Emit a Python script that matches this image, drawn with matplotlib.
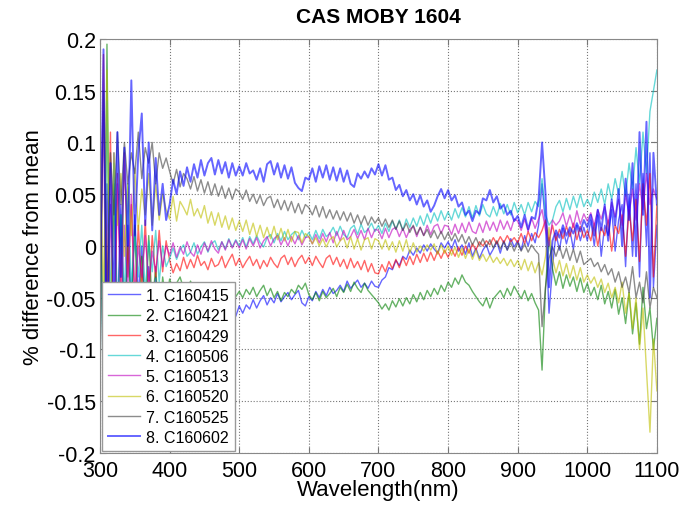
import numpy as np
import matplotlib.pyplot as plt
from matplotlib.ticker import FormatStrFormatter

plt.rcParams['font.family'] = ['Liberation Sans', 'DejaVu Sans']

wavelength = np.arange(300, 1101, 5)

# % difference from mean, in thousandths, one row per 100 nm
c160415 = [150, -180, 60, -120, 90, -70, 40, -90, 20, -60, 30, -50, 0, -70, -20, -60, -30, -75, -40, -65,
           -64, -73, -69, -79, -70, -81, -72, -76, -68, -80, -71, -75, -66, -77, -69, -73, -62, -71, -64, -68,
           -58, -65, -57, -61, -52, -60, -53, -48, -57, -50, -55, -46, -54, -49, -45, -52, -47, -43, -55, -58,
           -49, -53, -44, -50, -42, -48, -40, -46, -43, -38, -44, -34, -41, -37, -33, -40, -36, -41, -34, -39,
           -40, -33, -30, -21, -23, -14, -19, -10, -13, -4, -9, -2, -7, 1, -5, 2, -3, -7, 3, -2,
           4, -3, 6, -5, 1, -8, 3, -10, -2, -12, -4, 1, -9, -3, 4, -7, 5, -4, 7, -1,
           5, -4, 10, 0, 12, 3, 20, 60, 20, -65, -20, 12, -4, 17, 2, 15, -3, 20, 5, 18,
           5, 25, 0, 30, -10, 20, 10, 35, -5, 25, 40, -20, 50, -10, 60, -30, 70, 0, 90, -40, 20]
c160421 = [100, -170, 195, -140, 60, -100, 30, -80, 0, -60, 20, -90, -10, -70, 10, -60, -20, -80, -30, -55,
           -32, -42, -36, -30, -41, -45, -34, -43, -47, -37, -44, -49, -40, -48, -42, -50, -44, -52, -43, -49,
           -44, -50, -42, -47, -40, -49, -43, -38, -48, -41, -50, -44, -53, -45, -49, -42, -46, -38, -42, -36,
           -47, -52, -45, -53, -44, -50, -46, -41, -49, -40, -45, -37, -44, -35, -41, -45, -36, -43, -47, -51,
           -55, -61, -56, -62, -53, -59, -51, -58, -50, -56, -47, -54, -45, -52, -43, -49, -41, -47, -38, -44,
           -35, -40, -31, -37, -28, -35, -38, -44, -49, -54, -58, -50, -60, -51, -47, -43, -50, -41, -48, -39,
           -45, -51, -43, -53, -46, -55, -62, -120, -40, 8, -22, -38, -25, -41, -28, -39, -30, -44, -31, -45,
           -36, -48, -40, -52, -38, -56, -44, -60, -42, -66, -50, -75, -45, -85, -55, -95, -40, -80, -60, -100, -70]
c160429 = [-90, 185, -60, 110, -150, 70, -40, 90, -30, 40, -60, 20, -40, 25, -50, 10, -30, 15, -25, 5,
           -14, -26, -17, -24, -11, -22, -13, -21, -9, -19, -15, -23, -12, -20, -18, -10, -21, -14, -8, -19,
           -12, -21, -15, -10, -19, -13, -22, -14, -20, -11, -17, -21, -12, -9, -18, -11, -20, -13, -9, -17,
           -11, -19, -10, -16, -21, -12, -9, -18, -11, -20, -13, -22, -12, -21, -15, -23, -14, -25, -17, -26,
           -27, -18, -25, -15, -22, -13, -21, -11, -19, -10, -18, -8, -16, -7, -15, -6, -14, -5, -12, -4,
           -11, -3, -10, -1, -9, 0, -7, 2, -4, 4, 0, 5, 1, 8, 2, 9, 3, 10, 4, 8,
           3, 12, 2, 14, 5, 13, 8, 15, 25, 5, 20, 5, 16, 7, 19, 9, 22, 6, 19, 8,
           15, 5, 22, 0, 18, 10, 25, -5, 20, 12, 30, -10, 35, 5, 45, -15, 60, 20, 70, -30, 40]
c160506 = [50, -120, 140, -60, 80, -90, 30, -50, 60, -40, 10, -30, 20, -45, 5, -25, 15, -35, 0, -20,
           -12, -2, -13, -4, 1, -10, -6, 3, -8, -1, 4, -6, 2, 5, -4, 4, -3, 7, -1, 6,
           0, 8, -1, 9, 2, 10, 3, -1, 8, 11, 3, 12, 5, 14, 6, 11, 14, 6, 15, 8,
           13, 6, 15, 7, 16, 9, 12, 18, 10, 19, 11, 8, 17, 20, 11, 21, 13, 16, 22, 14,
           20, 12, 22, 14, 24, 16, 25, 15, 26, 18, 27, 19, 29, 20, 31, 22, 32, 24, 34, 25,
           33, 25, 36, 27, 37, 28, 38, 27, 39, 29, 40, 31, 28, 38, 29, 41, 31, 40, 30, 42,
           32, 40, 30, 42, 33, 43, 38, 65, 30, 20, 25, 38, 44, 33, 46, 35, 48, 37, 50, 38,
           45, 38, 52, 42, 55, 40, 60, 45, 65, 50, 72, 48, 80, 55, 95, 60, 110, 70, 130, 150, 170]
c160513 = [-30, 130, -170, 40, -80, 60, -60, 20, -40, 50, -50, 0, -30, 10, -35, -5, -25, 5, -20, 0,
           -9, 3, -11, -1, -8, 4, -6, -10, 1, -8, 3, -5, 5, -3, -7, 4, -4, 6, -2, 5,
           -2, 6, -3, 7, 0, 8, -2, 5, 9, 0, 7, 10, 1, 8, 0, 9, 2, 10, 1, 8,
           9, 2, 11, 3, 12, 4, 13, 3, 14, 5, 15, 6, 9, 16, 7, 15, 6, 17, 8, 16,
           15, 7, 17, 8, 16, 18, 9, 17, 8, 16, 19, 9, 18, 10, 20, 11, 19, 21, 12, 20,
           19, 11, 21, 12, 22, 13, 23, 14, 12, 22, 13, 24, 15, 23, 14, 25, 16, 24, 15, 26,
           24, 15, 26, 14, 27, 17, 26, 35, 15, 0, 25, 20, 24, 32, 19, 30, 18, 34, 21, 31,
           24, 32, 20, 35, 26, 38, 22, 42, 28, 45, 20, 50, 30, 55, 25, 60, 35, 70, 40, 55, 45]
c160520 = [120, -60, 170, -100, 90, 20, 70, -10, 60, 10, 75, 15, 55, 30, 70, 20, 60, 25, 50, 35,
           26, 48, 24, 43, 37, 30, 45, 29, 36, 27, 39, 22, 33, 20, 32, 18, 29, 16, 27, 15,
           24, 14, 25, 11, 22, 9, 20, 8, 18, 7, 19, 6, 17, 5, 16, 4, 14, 13, 3, 12,
           9, 2, 8, 0, 7, -1, 6, 9, -1, 5, 8, -2, 9, -3, 7, -4, 6, 8, -3, 7,
           5, -3, 6, -4, 4, -6, 5, -5, 6, -7, 3, -6, 0, -5, 1, -4, 2, -8, 1, -7,
           0, -9, -1, -11, -2, -12, -3, -13, -4, -14, -8, -15, -9, -16, -11, -17, -12, -19, -13, -20,
           -14, -23, -13, -24, -15, -26, -16, -28, -10, 18, -12, -26, -14, -29, -17, -31, -19, -33, -21, -35,
           -28, -36, -30, -40, -32, -45, -36, -50, -40, -55, -35, -65, -45, -80, -50, -100, -60, -120, -180, -90, -140]
c160525 = [-100, 150, -50, 90, 30, 110, 40, 100, 60, 90, 70, 110, 65, 95, 80, 100, 60, 90, 75, 85,
           72, 60, 74, 57, 70, 65, 55, 67, 53, 64, 51, 62, 49, 60, 48, 58, 46, 56, 45, 55,
           52, 45, 54, 43, 50, 41, 49, 39, 46, 48, 37, 45, 35, 44, 34, 43, 32, 41, 31, 40,
           37, 30, 39, 28, 38, 27, 35, 26, 34, 25, 33, 24, 32, 22, 30, 21, 29, 20, 28, 22,
           27, 19, 26, 18, 25, 16, 24, 15, 22, 13, 20, 11, 18, 10, 16, 8, 15, 7, 14, 6,
           13, 5, 12, 4, 11, 2, 9, 1, 8, 0, 7, -1, 6, -2, 5, -3, 4, -4, 3, -5,
           3, -5, 2, -6, 1, -4, -8, -78, -40, -12, -1, -10, 0, -12, -2, -14, -3, -16, -5, -18,
           -15, -12, -20, -16, -25, -18, -28, -22, -35, -25, -40, -30, -45, -20, -50, -35, -55, -25, -60, -40, -50]
c160602 = [-40, 190, -120, 80, -60, 110, -30, 95, 0, 160, 10, 90, 128, 20, 100, 15, 85, 30, 60, 25,
           40, 64, 50, 72, 58, 76, 62, 79, 66, 83, 68, 80, 85, 69, 83, 70, 81, 66, 80, 68,
           77, 68, 80, 70, 73, 64, 75, 62, 79, 82, 69, 80, 66, 78, 65, 76, 61, 56, 53, 66,
           64, 75, 62, 77, 66, 78, 64, 76, 63, 75, 62, 73, 60, 57, 70, 65, 72, 66, 75, 69,
           79, 68, 78, 64, 66, 54, 59, 48, 54, 44, 50, 40, 49, 38, 44, 33, 39, 48, 55, 46,
           54, 44, 49, 38, 42, 30, 34, 24, 34, 31, 46, 44, 54, 42, 48, 36, 40, 30, 34, 24,
           29, 18, 30, 16, 28, 26, 45, 100, 50, -40, 5, 15, 8, 20, 10, 18, 12, 22, 14, 25,
           18, 30, 10, 35, 15, 40, 5, 45, 20, 55, 0, 65, 25, 80, -10, 110, 30, 120, -50, 90, 40]

series = [c160415, c160421, c160429, c160506, c160513, c160520, c160525, c160602]
labels = ['1. C160415', '2. C160421', '3. C160429', '4. C160506',
          '5. C160513', '6. C160520', '7. C160525', '8. C160602']
colors = [(0, 0, 1), (0, 0.5, 0), (1, 0, 0), (0, 0.75, 0.75),
          (0.75, 0, 0.75), (0.75, 0.75, 0), (0.25, 0.25, 0.25), (0, 0, 1)]
yticks = [-0.2, -0.15, -0.1, -0.05, 0, 0.05, 0.1, 0.15, 0.2]

fig = plt.figure(figsize=(6.85, 5.06), dpi=100)
ax = fig.add_axes([0.146, 0.103, 0.813, 0.818])

for i in range(len(series)):
    lw = 1.4 if i == 7 else 1.0
    ax.plot(wavelength, np.array(series[i]) / 1000, color=colors[i], lw=lw,
            alpha=0.6, label=labels[i])

ax.set_xlim(300, 1100)
ax.set_ylim(-0.2, 0.2)
ax.set_xticks(np.arange(300, 1101, 100))
ax.set_yticks(yticks)
ax.yaxis.set_major_formatter(FormatStrFormatter('%g'))
ax.grid(True, linestyle=':', color='#777777', lw=0.8)
ax.tick_params(direction='in', top=True, right=True, length=4, labelsize=15.5,
               color='#777777', pad=3)
ax.tick_params(axis='x', pad=5)
for sp in ax.spines.values():
    sp.set_color('#888888')

ax.set_title('CAS MOBY 1604', fontsize=15, fontweight='bold', pad=12)
ax.set_xlabel('Wavelength(nm)', fontsize=16, labelpad=-1)
ax.set_ylabel('% difference from mean', fontsize=16, labelpad=2)

leg = ax.legend(loc='lower left', fontsize=11.5, fancybox=False, framealpha=1,
                edgecolor='#999999', handlelength=2.0, borderaxespad=0.1,
                labelspacing=0.33, borderpad=0.4, handletextpad=0.4)
leg.get_frame().set_linewidth(1.0)

fig.savefig('out.png', dpi=100)
